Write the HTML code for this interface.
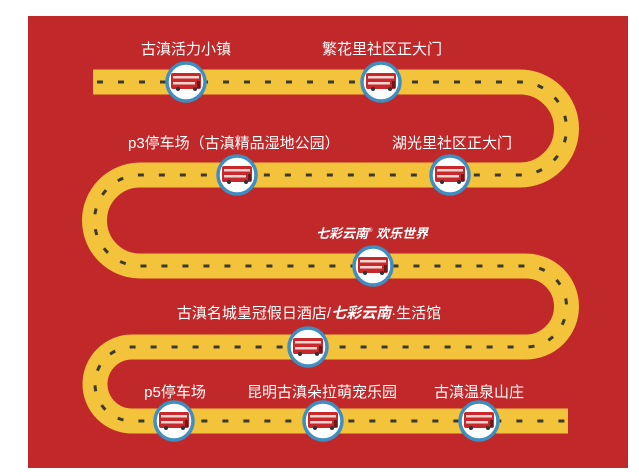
<!DOCTYPE html>
<html><head><meta charset="utf-8"><style>
html,body{margin:0;padding:0;background:#fff;width:639px;height:476px;overflow:hidden}
svg{display:block}
text{font-family:"Liberation Sans","Noto Sans CJK SC",sans-serif;fill:#fff;font-size:15px}
</style></head><body>
<svg width="639" height="476" viewBox="0 0 639 476" xmlns="http://www.w3.org/2000/svg">
<defs>
<g id="bus">
<circle r="19" fill="#fff" stroke="#3d8fc2" stroke-width="3.5"/>
<rect x="-15" y="-9" width="30" height="16" rx="2" fill="#c8282c"/>
<rect x="-13" y="-6" width="26" height="2.5" fill="#f1d6d0"/>
<rect x="-13" y="0" width="22" height="2.5" fill="#f1d6d0"/>
<rect x="11" y="-1" width="3" height="7" fill="#6a1a1a"/>
<circle cx="-8" cy="7" r="2" fill="#333"/>
<circle cx="9" cy="7" r="2" fill="#333"/>
</g>
</defs>
<rect x="28" y="16" width="600" height="452" fill="#c0282a"/>
<path d="M93,82 L520,82 A46.5,46.5 0 0 1 520,175 L140,175 A45.5,45.5 0 0 0 140,266 L526,266 A40.5,40.5 0 0 1 526,347 L132,347 A37,37 0 0 0 132,421 L568,421" fill="none" stroke="#f3c33b" stroke-width="25"/>
<path d="M97,82 L520,82 A46.5,46.5 0 0 1 520,175 L140,175 A45.5,45.5 0 0 0 140,266 L526,266 A40.5,40.5 0 0 1 526,347 L132,347 A37,37 0 0 0 132,421 L568,421" fill="none" stroke="#3b3a2c" stroke-width="3" stroke-dasharray="6 15"/>
<use href="#bus" x="186" y="82"/>
<use href="#bus" x="381" y="82"/>
<use href="#bus" x="237" y="175"/>
<use href="#bus" x="450" y="175"/>
<use href="#bus" x="373" y="266"/>
<use href="#bus" x="308" y="347"/>
<use href="#bus" x="174" y="421"/>
<use href="#bus" x="323" y="421"/>
<use href="#bus" x="479" y="421"/>
<text x="186" y="54" text-anchor="middle">古滇活力小镇</text>
<text x="382" y="54" text-anchor="middle">繁花里社区正大门</text>
<text x="128" y="148">p3停车场（古滇精品湿地公园）</text>
<text x="452" y="148" text-anchor="middle">湖光里社区正大门</text>
<text x="372" y="238" text-anchor="middle" font-style="italic" font-weight="bold" style="font-size:13px">七彩云南<tspan style="font-size:6px" dy="-6">®</tspan><tspan dy="6"> 欢乐世界</tspan></text>
<text x="309" y="318" text-anchor="middle">古滇名城皇冠假日酒店/<tspan font-weight="bold" font-style="italic">七彩云南</tspan>·生活馆</text>
<text x="175" y="397" text-anchor="middle">p5停车场</text>
<text x="322" y="397" text-anchor="middle">昆明古滇朵拉萌宠乐园</text>
<text x="479" y="397" text-anchor="middle">古滇温泉山庄</text>
</svg>
</body></html>
